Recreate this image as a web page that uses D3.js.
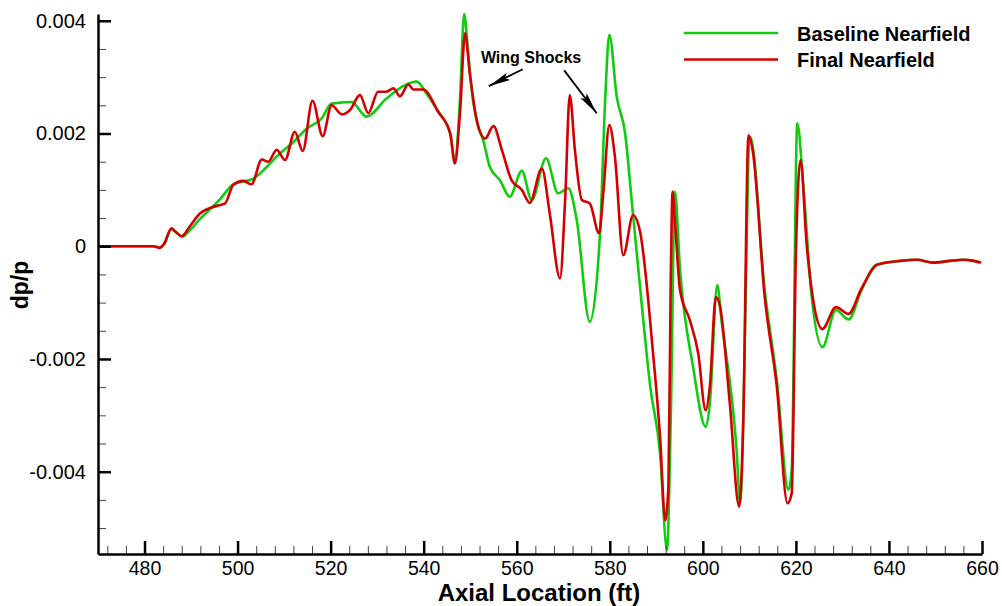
<!DOCTYPE html>
<html>
<head>
<meta charset="utf-8">
<script src="https://cdn.jsdelivr.net/npm/d3@7"></script>
<style>
  html, body { margin: 0; padding: 0; background: #fff; }
  svg { display: block; font-family: "Liberation Sans", Arial, sans-serif; }
</style>
</head>
<body>
<svg id="chart" width="1002" height="606"></svg>
<script>
// dp/p values are given in units of 1e-3
const baselineNearfield = [
  [470,0],[481.8,0],[483.3,-0.02],[484.2,0.04],[485.8,0.30],[486.6,0.26],[488.2,0.17],[489.1,0.23],
  [491.9,0.48],[496.2,0.83],[499.1,1.10],[503.4,1.20],[506.3,1.41],[508.4,1.59],[512.0,1.85],
  [514.9,2.09],[518.1,2.27],[520.2,2.53],[524.5,2.56],[527.7,2.30],[532.0,2.62],[535.6,2.84],
  [538.5,2.92],[540.6,2.71],[543.1,2.39],[545.7,2.00],[546.7,1.53],[547.8,2.59],[548.7,4.12],
  [549.5,3.48],[550.6,2.59],[551.6,2.15],[552.8,1.88],[554.2,1.41],[556.4,1.17],[558.5,0.88],
  [561.1,1.34],[563.2,0.82],[566.3,1.56],[568.9,0.94],[571.1,1.03],[572.9,0.46],[575.7,-1.34],
  [577.9,0.23],[579.0,2.59],[579.9,3.75],[581.5,2.65],[583.3,2.00],[584.7,0.82],[586.5,-0.72],
  [588.7,-2.49],[590.8,-3.67],[592.3,-5.39],[593.1,-3.08],[594.0,0.97],[595.1,-0.42],[597.9,-2.14],
  [600.6,-3.20],[601.5,-2.79],[603.1,-0.69],[604.0,-1.31],[607.3,-3.67],[608.0,-4.56],[610.2,1.94],
  [613.3,-0.78],[615.9,-2.38],[618.4,-4.32],[619.1,-3.97],[620.3,2.18],[621.6,1.06],[623.4,-0.90],
  [625.7,-1.79],[628.6,-1.13],[631.3,-1.30],[634.1,-0.78],[637.4,-0.33],[642.4,-0.26],[646.0,-0.24],
  [649.5,-0.29],[653.1,-0.26],[656.0,-0.24],[658.2,-0.26],[659.8,-0.29]
];
const finalNearfield = [
  [470,0],[481.8,0],[483.3,-0.03],[484.2,0.04],[485.8,0.32],[486.5,0.27],[488.0,0.18],[489.8,0.36],
  [491.9,0.58],[494.1,0.68],[496.2,0.73],[497.3,0.76],[499.1,1.09],[501.2,1.16],[503.0,1.10],
  [505.2,1.54],[506.6,1.50],[508.4,1.71],[510.2,1.53],[512.3,2.03],[514.0,1.69],[516.1,2.58],
  [518.3,1.95],[520.2,2.50],[522.4,2.34],[524.2,2.42],[526.3,2.68],[528.1,2.36],[530.2,2.74],
  [531.9,2.74],[533.5,2.80],[534.9,2.66],[536.7,2.87],[537.8,2.78],[539.9,2.78],[543.1,2.39],
  [545.7,2.00],[546.7,1.47],[547.8,2.36],[548.9,3.78],[549.9,3.07],[551.4,2.24],[553.2,1.91],
  [555.0,2.13],[556.8,1.71],[558.9,1.17],[561.1,1.00],[562.8,0.77],[565.4,1.38],[567.1,0.58],
  [569.3,-0.57],[570.4,0.82],[571.4,2.68],[572.5,1.71],[574.0,0.82],[575.7,0.76],[577.7,0.23],
  [578.6,0.94],[579.9,2.15],[581.1,1.59],[582.9,-0.16],[585.0,0.55],[586.5,0.26],[589.3,-1.90],
  [590.8,-3.38],[591.9,-4.86],[592.6,-4.27],[593.1,-0.60],[593.5,0.97],[594.0,0.46],[595.1,-0.78],
  [597.2,-1.31],[599.0,-1.90],[600.6,-2.91],[601.5,-2.49],[602.8,-0.90],[603.7,-1.07],[605.8,-2.79],
  [607.8,-4.62],[608.7,-3.08],[609.8,1.97],[610.8,1.65],[613.3,-0.90],[615.9,-2.49],[618.2,-4.56],
  [619.1,-4.38],[620.0,-0.13],[621.0,1.53],[622.3,0.05],[623.7,-0.95],[625.7,-1.47],[628.6,-1.08],
  [631.3,-1.20],[634.1,-0.75],[637.4,-0.33],[642.4,-0.26],[646.0,-0.24],[649.5,-0.29],[653.1,-0.26],
  [656.0,-0.24],[658.2,-0.26],[659.8,-0.29]
];
const seriesNames = ["Baseline Nearfield", "Final Nearfield"];
const seriesColors = ["#10cc10", "#d40000"];
const xTicks = [480, 500, 520, 540, 560, 580, 600, 620, 640, 660];
const yTicks = [-4, -2, 0, 2, 4];
const yTickLabels = ["-0.004", "-0.002", "0", "0.002", "0.004"];
const xTitle = "Axial Location (ft)";
const yTitle = "dp/p";
const annotationText = "Wing Shocks";
// arrows: [fromX, fromY, toX, toY] in data units
const annotationArrows = [[561.3, 3.14, 554.0, 2.84], [570.2, 3.12, 577.2, 2.36]];
const annotationAnchor = [552.3, 3.25];

const svg = d3.select("#chart");
const x = d3.scaleLinear().domain([470, 660]).range([98, 982]);
const y = d3.scaleLinear().domain([-5.46, 4.12]).range([554, 14]);

// minor ticks
const xMinor = d3.range(472, 660, 4).filter(v => (v % 20) !== 0);
const yMinor = d3.range(-5, 4.01, 0.5).filter(v => Math.abs(v % 2) > 1e-6);

// data lines
const line = d3.line().x(d => x(d[0])).y(d => y(d[1])).curve(d3.curveMonotoneX);
const plot = svg.append("g");
[baselineNearfield, finalNearfield].forEach((s, i) => {
  plot.append("path").datum(s).attr("d", line)
    .attr("fill", "none").attr("stroke", seriesColors[i])
    .attr("stroke-width", 2.6).attr("stroke-linejoin", "round");
});

// x axis
const gx = svg.append("g").attr("transform", `translate(0,554)`);
gx.call(d3.axisBottom(x).tickValues(xMinor).tickSizeInner(-8).tickSizeOuter(0).tickFormat(""))
  .call(g => g.select(".domain").remove())
  .call(g => g.selectAll(".tick line").attr("stroke", "#444").attr("stroke-width", 1));
const gx2 = svg.append("g").attr("transform", `translate(0,554)`);
gx2.call(d3.axisBottom(x).tickValues(xTicks).tickSizeInner(-13).tickSizeOuter(0).tickPadding(7).tickFormat(d3.format("d")))
  .call(g => g.select(".domain").attr("stroke", "#000").attr("stroke-width", 2.5))
  .call(g => g.selectAll(".tick line").attr("stroke", "#000").attr("stroke-width", 2.5))
  .call(g => g.selectAll(".tick text").attr("font-size", 19.5).attr("fill", "#000")
        .attr("font-family", "Liberation Sans, Arial, sans-serif"));

// y axis
const gy = svg.append("g").attr("transform", `translate(98,0)`);
gy.call(d3.axisLeft(y).tickValues(yMinor).tickSizeInner(-8).tickSizeOuter(0).tickFormat(""))
  .call(g => g.select(".domain").remove())
  .call(g => g.selectAll(".tick line").attr("stroke", "#444").attr("stroke-width", 1));
const gy2 = svg.append("g").attr("transform", `translate(98,0)`);
gy2.call(d3.axisLeft(y).tickValues(yTicks).tickSizeInner(-13).tickSizeOuter(0).tickPadding(12)
      .tickFormat((d, i) => yTickLabels[i]))
  .call(g => g.select(".domain").attr("stroke", "#000").attr("stroke-width", 2.5))
  .call(g => g.selectAll(".tick line").attr("stroke", "#000").attr("stroke-width", 2.5))
  .call(g => g.selectAll(".tick text").attr("font-size", 20).attr("fill", "#000")
        .attr("font-family", "Liberation Sans, Arial, sans-serif"));

// titles
svg.append("text").attr("x", 539).attr("y", 601).attr("text-anchor", "middle")
  .attr("font-size", 24).attr("font-weight", "bold").text(xTitle);
svg.append("text").attr("transform", "translate(28,285) rotate(-90)").attr("text-anchor", "middle")
  .attr("font-size", 23).attr("font-weight", "bold").text(yTitle);

// legend
const legend = svg.append("g");
seriesNames.forEach((name, i) => {
  const yy = 33 + i * 26.5;
  legend.append("line").attr("x1", 684).attr("x2", 778).attr("y1", yy).attr("y2", yy)
    .attr("stroke", seriesColors[i]).attr("stroke-width", 2.6);
  legend.append("text").attr("x", 797).attr("y", yy + 7.5).attr("font-size", 20)
    .attr("font-weight", "bold").attr("fill", "#000").text(name);
});

// annotation
const defs = svg.append("defs");
defs.append("marker").attr("id", "ah").attr("viewBox", "0 0 22 10").attr("refX", 22).attr("refY", 5)
  .attr("markerWidth", 22).attr("markerHeight", 10).attr("markerUnits", "userSpaceOnUse")
  .attr("orient", "auto")
  .append("path").attr("d", "M0,1 L22,5 L0,9 L4,5 Z").attr("fill", "#000");
annotationArrows.forEach(a => {
  svg.append("line").attr("x1", x(a[0])).attr("y1", y(a[1])).attr("x2", x(a[2])).attr("y2", y(a[3]))
    .attr("stroke", "#000").attr("stroke-width", 1.8).attr("marker-end", "url(#ah)");
});
svg.append("text").attr("x", x(annotationAnchor[0])).attr("y", y(annotationAnchor[1]))
  .attr("font-size", 16).attr("font-weight", "bold").attr("fill", "#000").text(annotationText);
</script>
</body>
</html>
